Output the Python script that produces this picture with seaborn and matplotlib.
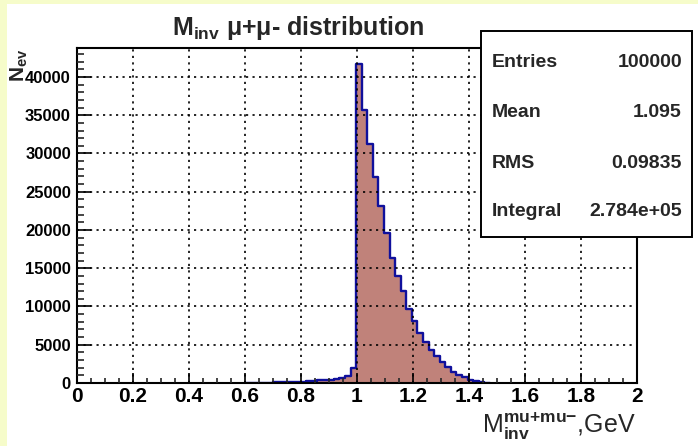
import numpy as np
import pandas as pd
import matplotlib
matplotlib.use("Agg")
import matplotlib.pyplot as plt
import seaborn as sns
from matplotlib.patches import Rectangle
from matplotlib.ticker import MultipleLocator

# ---------------- data ----------------
bin_low = 0.60
bin_width = 0.02
counts = [10, 30, 40, 50, 60, 70, 90, 110, 130, 160,
          190, 230, 260, 330, 360, 430, 480, 620, 950, 1950,
          41750, 35640, 31280, 26870, 23080, 19630, 16300, 14000, 12000, 9630,
          8050, 6550, 5420, 4300, 3500, 2750, 2100, 1380, 1100, 800,
          380, 200, 80, 30]

x_ticks = [0, 0.2, 0.4, 0.6, 0.8, 1.0, 1.2, 1.4, 1.6, 1.8, 2.0]
x_tick_labels = ["0", "0.2", "0.4", "0.6", "0.8", "1", "1.2", "1.4", "1.6", "1.8", "2"]
y_ticks = [0, 5000, 10000, 15000, 20000, 25000, 30000, 35000, 40000]
y_tick_labels = ["0", "5000", "10000", "15000", "20000", "25000", "30000", "35000", "40000"]

stats_names = ["Entries", "Mean", "RMS", "Integral"]
stats_values = ["100000", "1.095", "0.09835", "2.784e+05"]

title_text = "M$_{inv}$ \u03bc+\u03bc- distribution"
xlabel_text = r"M$_{\mathbf{inv}}^{\mathbf{mu{+}mu{-}}}$,GeV"
ylabel_text = "N$_{ev}$"

# ---------------- style ----------------
sns.set_style("ticks")
plt.rcParams['font.family'] = ['Liberation Sans', 'DejaVu Sans']
plt.rcParams['mathtext.fontset'] = 'custom'
plt.rcParams['mathtext.rm'] = 'Liberation Sans'
plt.rcParams['mathtext.bf'] = 'Liberation Sans:bold'
plt.rcParams['mathtext.it'] = 'Liberation Sans:italic'
plt.rcParams['mathtext.default'] = 'regular'

W, H = 698, 446
fig = plt.figure(figsize=(W / 100, H / 100), dpi=100)
fig.patch.set_facecolor('white')

# yellow canvas strips (left and top)
yellow = '#f6fcca'
fig.add_artist(Rectangle((0, 0), 7 / W, 1, transform=fig.transFigure,
                         facecolor=yellow, edgecolor='none', zorder=-5))
fig.add_artist(Rectangle((0, 1 - 4 / H), 1, 4 / H, transform=fig.transFigure,
                         facecolor=yellow, edgecolor='none', zorder=-5))

ax_l, ax_r, ax_t, ax_b = 76.5, 637, 47.5, 383
ax = fig.add_axes([ax_l / W, (H - ax_b) / H, (ax_r - ax_l) / W, (ax_b - ax_t) / H])
ax.set_facecolor('white')

edges = bin_low + bin_width * np.arange(len(counts) + 1)
centers = edges[:-1] + bin_width / 2
df = pd.DataFrame({"mass": centers, "n": np.array(counts, dtype=float)})
brange = (float(edges[0]), float(edges[-1]) - bin_width / 4)

fill_color = '#c0827a'
line_color = '#10109c'
sns.histplot(data=df, x="mass", weights="n", binwidth=bin_width, binrange=brange,
             element='step', fill=True, color=fill_color, alpha=1, linewidth=0, ax=ax)
sns.histplot(data=df, x="mass", weights="n", binwidth=bin_width, binrange=brange,
             element='step', fill=False, color=line_color, linewidth=1.7, ax=ax)

ax.set_xlim(0, 2)
ax.set_ylim(0, 43850)
ax.set_xlabel('')
ax.set_ylabel('')

ax.set_xticks(x_ticks)
ax.set_xticklabels(x_tick_labels, fontsize=15, fontweight='bold')
ax.set_yticks(y_ticks)
ax.set_yticklabels(y_tick_labels, fontsize=12, fontweight='bold')
ax.xaxis.set_minor_locator(MultipleLocator(0.05))
ax.yaxis.set_minor_locator(MultipleLocator(1000))

ax.tick_params(axis='x', which='major', direction='in', length=7, width=1.2,
               pad=3, top=False, bottom=True, colors='black')
ax.tick_params(axis='x', which='minor', direction='in', length=3.5, width=1.2,
               top=False, bottom=True)
ax.tick_params(axis='y', which='major', direction='in', length=10, width=1.2,
               pad=4, right=False, left=True, colors='black')
ax.tick_params(axis='y', which='minor', direction='in', length=5, width=1.2,
               right=False, left=True)

for s in ax.spines.values():
    s.set_visible(True)
    s.set_color('black')
    s.set_linewidth(1.5)

ax.grid(True, which='major', color='black', linestyle=(0, (1.3, 2.6)), linewidth=1.2)
ax.set_axisbelow(False)

# ---------------- texts ----------------
fig.text(172 / W, 1 - 35 / H, title_text, ha='left', va='baseline',
         fontsize=18, fontweight='bold')
fig.text(636 / W, 1 - 433 / H, xlabel_text, ha='right', va='baseline',
         fontsize=18)
fig.text(9 / W, 1 - 49 / H, ylabel_text, ha='left', va='top', rotation=90,
         fontsize=15, fontweight='bold')

# ---------------- stats box ----------------
bx0, bx1, by0, by1 = 481, 692, 31, 237
fig.add_artist(Rectangle((bx0 / W, 1 - by1 / H), (bx1 - bx0) / W, (by1 - by0) / H,
                         transform=fig.transFigure, facecolor='white',
                         edgecolor='black', linewidth=1.4, zorder=5))
row_baselines = [66.7, 116.7, 168, 216]
for name, val, yb in zip(stats_names, stats_values, row_baselines):
    fig.text(492 / W, 1 - yb / H, name, ha='left', va='baseline',
             fontsize=14, fontweight='bold', zorder=6)
    fig.text(682 / W, 1 - yb / H, val, ha='right', va='baseline',
             fontsize=14, fontweight='bold', zorder=6)

fig.savefig('out.png', dpi=100, facecolor=fig.get_facecolor())
